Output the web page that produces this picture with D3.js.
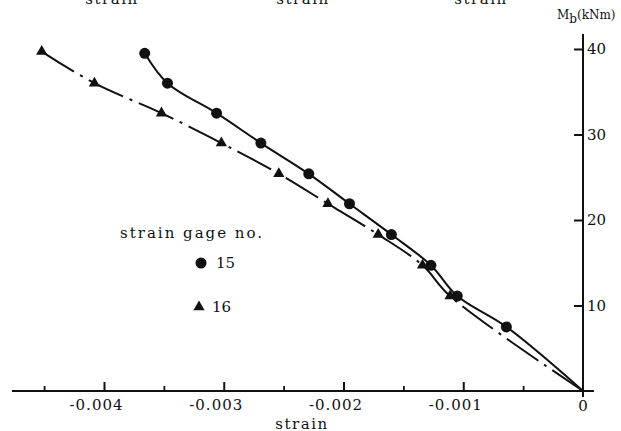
<!DOCTYPE html>
<html><head><meta charset="utf-8">
<script src="https://cdn.jsdelivr.net/npm/d3@7"></script>
<style>
body{margin:0;background:#fff;}
text{font-family:"DejaVu Serif","Liberation Serif",serif;fill:#111;}
</style></head>
<body><svg id="c" width="621" height="431"></svg>
<script>
// Data (strain, M_b in kNm)
const gage15Strain = [-0.00366, -0.00347, -0.00306, -0.00269, -0.00229, -0.00195, -0.00160, -0.00127, -0.00105, -0.00064, 0];
const gage15Moment = [39.5, 36.0, 32.5, 29.0, 25.4, 21.9, 18.3, 14.7, 11.1, 7.5, 0];
const gage16Strain = [-0.00452, -0.00408, -0.00352, -0.00302, -0.00254, -0.00213, -0.00171, -0.00134, -0.00111, 0];
const gage16Moment = [39.7, 36.0, 32.5, 29.0, 25.4, 21.9, 18.3, 14.7, 11.1, 0];
const xMajorTicks = [-0.004, -0.003, -0.002, -0.001, 0];
const xMinorTicks = [-0.0045, -0.0035, -0.0025, -0.0015, -0.0005];
const yTicks = [10, 20, 30, 40];
const legendLabels = ["15", "16"];

const svg = d3.select("#c");
const x = d3.scaleLinear().domain([-0.004, 0]).range([104, 583]);
const y = d3.scaleLinear().domain([0, 40]).range([391, 49]);
const x0 = x(0), y0 = y(0);

// top cut-off labels (cropped in the source as well)
[112, 303, 481].forEach(cx => svg.append("text").attr("x", cx).attr("y", 4)
  .attr("text-anchor","middle").style("font-size","15px").style("letter-spacing","1.5px").text("strain"));

// x axis line
svg.append("line").attr("x1", 12).attr("x2", 594).attr("y1", y0).attr("y2", y0)
  .attr("stroke","#111").attr("stroke-width",2);
// y axis line
svg.append("line").attr("x1", x0).attr("x2", x0).attr("y1", 34).attr("y2", y0 + 6)
  .attr("stroke","#111").attr("stroke-width",2);

const fmt = d => d === 0 ? "0" : d.toFixed(3);
const gx = svg.append("g").attr("transform", `translate(0,${y0})`)
  .call(d3.axisBottom(x).tickValues(xMajorTicks.filter(d=>d!==0)).tickSize(-9).tickPadding(8).tickFormat(fmt));
gx.select(".domain").remove();
gx.selectAll(".tick line").attr("stroke","#111").attr("stroke-width",2);
gx.selectAll(".tick text").attr("dx", -8).style("font-size","15px").style("letter-spacing","1px")
  .style("font-family","'DejaVu Serif',serif").attr("fill","#111");
const gxm = svg.append("g").attr("transform", `translate(0,${y0})`)
  .call(d3.axisBottom(x).tickValues(xMinorTicks).tickSize(-5).tickFormat(""));
gxm.select(".domain").remove();
gxm.selectAll(".tick line").attr("stroke","#111").attr("stroke-width",1.8);
svg.append("text").attr("x", x0).attr("y", y0 + 20).attr("text-anchor","middle")
  .style("font-size","15px").text("0");

const gy = svg.append("g").attr("transform", `translate(${x0},0)`)
  .call(d3.axisRight(y).tickValues(yTicks).tickSize(-9).tickPadding(4).tickFormat(d=>d));
gy.select(".domain").remove();
gy.selectAll(".tick line").attr("stroke","#111").attr("stroke-width",2);
gy.selectAll(".tick text").style("font-size","15px").style("font-family","'DejaVu Serif',serif").attr("fill","#111");

// axis titles
svg.append("text").attr("x", 302).attr("y", 429).attr("text-anchor","middle")
  .style("font-size","15px").style("letter-spacing","1.5px").text("strain");
const mt = svg.append("text").attr("x", 557).attr("y", 19).style("font-size","12px");
mt.append("tspan").text("M");
mt.append("tspan").attr("dy", 4).text("b");
mt.append("tspan").attr("dy", -4).text("(kNm)");

// lines
const pts15 = gage15Strain.map((s,i)=>[s, gage15Moment[i]]);
const pts16 = gage16Strain.map((s,i)=>[s, gage16Moment[i]]);
const line = d3.line().x(d=>x(d[0])).y(d=>y(d[1])).curve(d3.curveCatmullRom.alpha(0.5));
svg.append("path").attr("d", line(pts15)).attr("fill","none").attr("stroke","#111").attr("stroke-width",2);
svg.append("path").attr("d", line(pts16)).attr("fill","none").attr("stroke","#111").attr("stroke-width",2)
  .attr("stroke-dasharray","38,7,3,7");

// markers
const tri = d3.symbol().type(d3.symbolTriangle).size(55);
svg.append("g").selectAll("circle").data(pts15.slice(0,-1)).join("circle")
  .attr("cx", d=>x(d[0])).attr("cy", d=>y(d[1])).attr("r", 5.5).attr("fill","#111");
svg.append("g").selectAll("path").data(pts16.slice(0,-1)).join("path")
  .attr("d", tri).attr("transform", d=>`translate(${x(d[0])},${y(d[1])})`).attr("fill","#111");

// legend
svg.append("text").attr("x", 120).attr("y", 238).style("font-size","15px").style("letter-spacing","2px").text("strain gage no.");
svg.append("circle").attr("cx", 201).attr("cy", 263).attr("r", 5.5).attr("fill","#111");
svg.append("text").attr("x", 216).attr("y", 268).style("font-size","15px").text(legendLabels[0]);
svg.append("path").attr("d", tri).attr("transform","translate(199,307)").attr("fill","#111");
svg.append("text").attr("x", 212).attr("y", 312).style("font-size","15px").text(legendLabels[1]);
</script></body></html>
